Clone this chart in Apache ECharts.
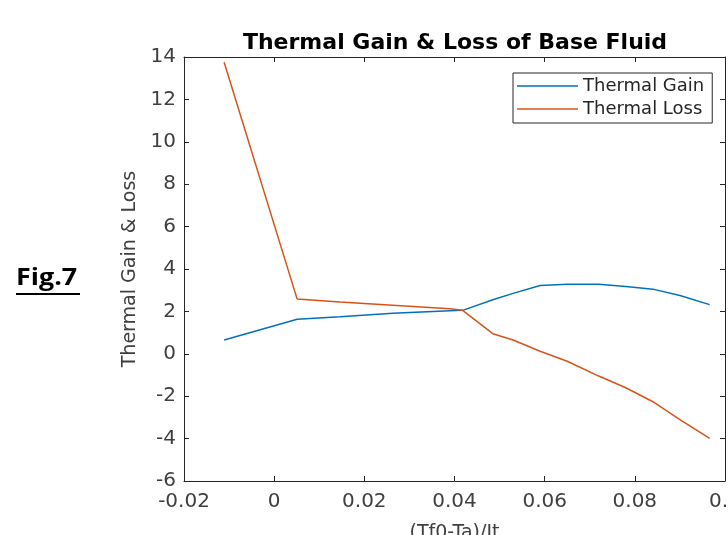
<!DOCTYPE html>
<html>
<head>
<meta charset="utf-8">
<script src="https://cdn.jsdelivr.net/npm/echarts@6/dist/echarts.min.js"></script>
<style>
    html, body { margin: 0; padding: 0; background: #fff; }
    #chart { width: 728px; height: 535px; }
</style>
</head>
<body>
<div id="chart"></div>
<script>
// (Tf0-Ta)/It 取值
const ratio = [-0.0111, 0.0051, 0.0146, 0.0263, 0.0390, 0.0418, 0.0485, 0.0530, 0.0590, 0.0650, 0.0720, 0.0780, 0.0840, 0.0900, 0.0966]
const gain = [0.65, 1.63, 1.75, 1.91, 2.03, 2.05, 2.55, 2.85, 3.22, 3.28, 3.28, 3.17, 3.05, 2.75, 2.32]
const loss = [13.75, 2.58, 2.44, 2.29, 2.13, 2.05, 0.95, 0.65, 0.12, -0.35, -1.05, -1.6, -2.26, -3.1, -3.99]
const xTicks = [-0.02, 0, 0.02, 0.04, 0.06, 0.08, 0.1]
const yTicks = [-6, -4, -2, 0, 2, 4, 6, 8, 10, 12, 14]

const axisColor = '#262626'
const labelColor = '#404040'
const font = 'DejaVu Sans'

const pairs = ys => ratio.map((x, i) => [x, ys[i]])

const chart = echarts.init(document.getElementById('chart'))

const baseAxis = {
    axisLine: { show: true, onZero: false, lineStyle: { color: axisColor, width: 1 } },
    axisTick: { show: true, inside: true, length: 5, lineStyle: { color: axisColor } },
    splitLine: { show: false },
}

const option = {
    animation: false,
    backgroundColor: '#fff',
    title: {
        text: 'Thermal Gain & Loss of Base Fluid',
        left: 450,
        top: 27,
        textAlign: 'center',
        textStyle: { fontFamily: font, fontWeight: 'bold', fontSize: 22, color: '#000' },
    },
    legend: {
        orient: 'vertical',
        left: 513,
        top: 73,
        padding: [4, 8, 5, 4],
        itemWidth: 61,
        itemHeight: 14,
        itemGap: 5,
        symbolKeepAspect: true,
        icon: 'path://M0,0H61V1.5H0Z',
        backgroundColor: '#fff',
        borderColor: axisColor,
        borderWidth: 1,
        textStyle: { fontFamily: font, fontSize: 18, color: axisColor },
        data: ['Thermal Gain', 'Thermal Loss'],
    },
    grid: { left: 184, right: 3, top: 57, bottom: 54, containLabel: false, outerBoundsMode: 'none' },
    xAxis: [
        {
            ...baseAxis,
            type: 'value',
            position: 'bottom',
            min: xTicks[0],
            max: xTicks[xTicks.length - 1],
            interval: 0.02,
            name: '(Tf0-Ta)/It',
            nameLocation: 'middle',
            nameGap: 43,
            nameTextStyle: { fontFamily: font, fontSize: 19, color: labelColor },
            axisLabel: {
                fontFamily: font,
                fontSize: 20,
                color: labelColor,
                margin: 11,
                formatter: v => String(+v.toFixed(2)),
            },
        },
        {
            ...baseAxis,
            type: 'value',
            position: 'top',
            min: xTicks[0],
            max: xTicks[xTicks.length - 1],
            interval: 0.02,
            axisLabel: { show: false },
        },
    ],
    yAxis: [
        {
            ...baseAxis,
            type: 'value',
            position: 'left',
            min: yTicks[0],
            max: yTicks[yTicks.length - 1],
            interval: 2,
            name: 'Thermal Gain & Loss',
            nameLocation: 'middle',
            nameGap: 44,
            nameTextStyle: { fontFamily: font, fontSize: 19, color: labelColor },
            axisLabel: { fontFamily: font, fontSize: 20, color: labelColor, margin: 8 },
        },
        {
            ...baseAxis,
            type: 'value',
            position: 'right',
            min: yTicks[0],
            max: yTicks[yTicks.length - 1],
            interval: 2,
            axisLabel: { show: false },
        },
    ],
    graphic: [
        {
            type: 'text',
            left: 16,
            top: 266,
            scaleX: 1.12,
            style: { text: 'Fig.7', font: 'bold 24px "Open Sans"', fill: '#000' },
        },
        {
            type: 'line',
            shape: { x1: 16, y1: 294, x2: 80, y2: 294 },
            style: { stroke: '#000', lineWidth: 2 },
        },
    ],
    series: [
        {
            name: 'Thermal Gain',
            type: 'line',
            data: pairs(gain),
            symbol: 'none',
            lineStyle: { color: '#0072BD', width: 1.5 },
            itemStyle: { color: '#0072BD' },
        },
        {
            name: 'Thermal Loss',
            type: 'line',
            data: pairs(loss),
            symbol: 'none',
            lineStyle: { color: '#D95319', width: 1.5 },
            itemStyle: { color: '#D95319' },
        },
    ],
}

chart.setOption(option)
</script>
</body>
</html>
